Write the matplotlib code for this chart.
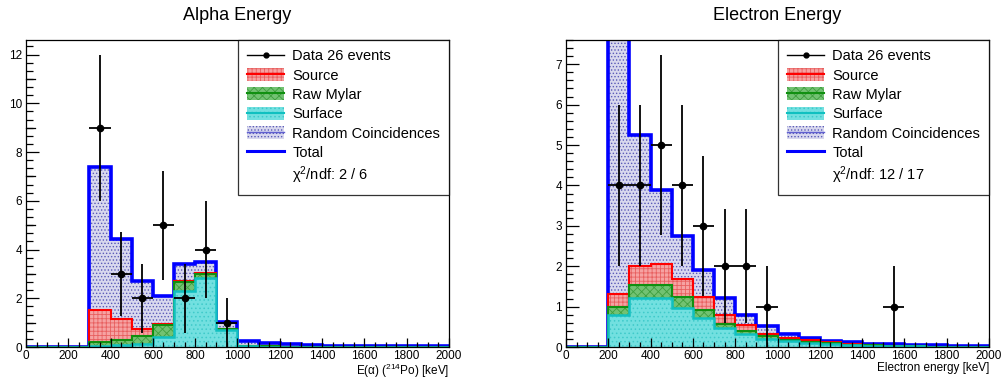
import numpy as np
import matplotlib
matplotlib.use("Agg")
import matplotlib.pyplot as plt
from matplotlib.patches import Patch
from matplotlib.lines import Line2D
from matplotlib.ticker import MultipleLocator

plt.rcParams['font.family'] = ['Liberation Sans', 'DejaVu Sans']
plt.rcParams['mathtext.fontset'] = 'custom'
plt.rcParams['mathtext.rm'] = 'Liberation Sans'
plt.rcParams['mathtext.it'] = 'Liberation Sans:italic'
plt.rcParams['hatch.linewidth'] = 0.6

# ---------------- data ----------------
edges = np.arange(0, 2001, 100)

# Alpha energy (stack components per 100 keV bin)
alpha_surface = [0, 0, 0, 0.05, 0.08, 0.12, 0.41, 2.30, 2.85, 0.71, 0.04, 0.02, 0.01, 0, 0, 0, 0, 0, 0, 0]
alpha_mylar = [0, 0, 0, 0.14, 0.19, 0.32, 0.49, 0.38, 0.15, 0.01, 0.01, 0.01, 0, 0, 0, 0, 0, 0, 0, 0]
alpha_source = [0, 0, 0, 1.34, 0.88, 0.31, 0.03, 0.03, 0.02, 0.01, 0.01, 0, 0, 0, 0, 0, 0, 0, 0, 0]
alpha_random = [0, 0, 0, 5.86, 3.28, 1.96, 1.16, 0.71, 0.45, 0.30, 0.20, 0.12, 0.10, 0.07, 0.06, 0.05, 0.04, 0.04, 0.03, 0.03]
alpha_data_x = [350, 450, 550, 650, 750, 850, 950]
alpha_data_y = [9, 3, 2, 5, 2, 4, 1]

# Electron energy
elec_surface = [0, 0, 0.80, 1.21, 1.21, 0.97, 0.73, 0.47, 0.33, 0.21, 0.14, 0.10, 0.07, 0.05, 0.03, 0.02, 0.015, 0.01, 0.01, 0.005]
elec_mylar = [0, 0, 0.19, 0.33, 0.33, 0.28, 0.19, 0.11, 0.06, 0.05, 0.04, 0.03, 0.02, 0.01, 0.01, 0.01, 0.005, 0, 0, 0]
elec_source = [0, 0, 0.31, 0.46, 0.51, 0.44, 0.33, 0.22, 0.15, 0.07, 0.04, 0.035, 0.03, 0.02, 0.01, 0, 0, 0, 0, 0]
elec_random = [0, 0, 6.60, 3.26, 1.83, 1.07, 0.66, 0.42, 0.24, 0.19, 0.11, 0.055, 0.04, 0.04, 0.03, 0.035, 0.03, 0.04, 0.02, 0.025]
elec_data_x = [250, 350, 450, 550, 650, 750, 850, 950, 1550]
elec_data_y = [4, 4, 5, 4, 3, 2, 2, 1, 1]

titles = ["Alpha Energy", "Electron Energy"]
xlabels = ["E(α) ($^{214}$Po) [keV]", "Electron energy [keV]"]
chi2_labels = ["χ$^{2}$/ndf: 2 / 6", "χ$^{2}$/ndf: 12 / 17"]
ymaxes = [12.6, 7.6]
legend_labels = ["Data 26 events", "Source", "Raw Mylar", "Surface", "Random Coincidences", "Total"]

# ---------------- style ----------------
c_src_face, c_src_hatch, c_src_line = '#f6a2a2', '#e86060', '#ff0000'
c_myl_face, c_myl_hatch, c_myl_line = '#72c272', '#3f9f3f', '#109010'
c_sur_face, c_sur_hatch, c_sur_line = '#72e0e0', '#3fcaca', '#10c0c0'
c_rnd_face, c_rnd_hatch, c_rnd_line = '#d8d8ee', '#5a5ab8', '#6060d0'
c_tot = '#0000ff'

fig = plt.figure(figsize=(10.03, 3.78), dpi=100)
W, H = 1003, 378
ax_pos = [(26, 40, 423, 307), (566, 40, 423, 307)]

datasets = [
    (alpha_surface, alpha_mylar, alpha_source, alpha_random, alpha_data_x, alpha_data_y),
    (elec_surface, elec_mylar, elec_source, elec_random, elec_data_x, elec_data_y),
]

for i, (sur, myl, src, rnd, dx, dy) in enumerate(datasets):
    x0, y0, w, h = ax_pos[i]
    ax = fig.add_axes([x0 / W, (H - y0 - h) / H, w / W, h / H])
    sur = np.array(sur); myl = np.array(myl); src = np.array(src); rnd = np.array(rnd)
    c_sur = sur
    c_myl = c_sur + myl
    c_src = c_myl + src
    c_tot_v = c_src + rnd

    # total (random coincidences on top of stack)
    ax.stairs(c_tot_v, edges, baseline=0, fill=True, facecolor=c_rnd_face,
              edgecolor=c_rnd_hatch, hatch='.....', linewidth=0)
    ax.stairs(c_tot_v, edges, baseline=0, color=c_tot, linewidth=2.6)
    # source
    ax.stairs(c_src, edges, baseline=0, fill=True, facecolor=c_src_face,
              edgecolor=c_src_hatch, hatch='++++', linewidth=0)
    ax.stairs(c_src, edges, baseline=0, color=c_src_line, linewidth=1.5)
    # raw mylar
    ax.stairs(c_myl, edges, baseline=0, fill=True, facecolor=c_myl_face,
              edgecolor=c_myl_hatch, hatch='xxxx', linewidth=0)
    ax.stairs(c_myl, edges, baseline=0, color=c_myl_line, linewidth=1.5)
    # surface
    ax.stairs(c_sur, edges, baseline=0, fill=True, facecolor=c_sur_face,
              edgecolor=c_sur_hatch, hatch='....', linewidth=0)
    ax.stairs(c_sur, edges, baseline=0, color=c_sur_line, linewidth=1.8)

    # data
    dy_arr = np.array(dy, dtype=float)
    ax.errorbar(dx, dy, xerr=50, yerr=np.sqrt(dy_arr), fmt='o', color='black',
                ms=4.5, elinewidth=1.3, capsize=0, zorder=10)

    ax.set_xlim(0, 2000)
    ax.set_ylim(0, ymaxes[i])
    ax.xaxis.set_major_locator(MultipleLocator(200))
    ax.xaxis.set_minor_locator(MultipleLocator(50))
    if i == 0:
        ax.yaxis.set_major_locator(MultipleLocator(2))
        ax.yaxis.set_minor_locator(MultipleLocator(1 / 3))
        for yy in [1, 3, 5, 7, 9, 11]:
            ax.plot([0, 0.022], [yy, yy], transform=ax.get_yaxis_transform(),
                    color='black', lw=0.9, clip_on=False, zorder=20)
    else:
        ax.yaxis.set_major_locator(MultipleLocator(1))
        ax.yaxis.set_minor_locator(MultipleLocator(0.2))
    ax.tick_params(axis='both', which='both', direction='in', top=False, right=False,
                   labelsize=8.5, width=0.9)
    ax.tick_params(axis='y', which='major', length=9.5, pad=3)
    ax.tick_params(axis='y', which='minor', length=4.7)
    ax.tick_params(axis='x', which='major', length=6.5, pad=2)
    ax.tick_params(axis='x', which='minor', length=3.3)
    for sp in ax.spines.values():
        sp.set_linewidth(0.9)

    ax.set_xlabel(xlabels[i], fontsize=8.5, loc='right', labelpad=0)

    fig.text((x0 + w / 2) / W, (H - 15) / H, titles[i], fontsize=13,
             ha='center', va='center')

    handles = [
        Line2D([], [], color='black', marker='o', ms=3.5, lw=1),
        (Patch(facecolor=c_src_face, edgecolor=c_src_hatch, hatch='++++', lw=0),
         Line2D([], [], color=c_src_line, lw=1.5)),
        (Patch(facecolor=c_myl_face, edgecolor=c_myl_hatch, hatch='xxxx', lw=0),
         Line2D([], [], color=c_myl_line, lw=1.5)),
        (Patch(facecolor=c_sur_face, edgecolor=c_sur_hatch, hatch='....', lw=0),
         Line2D([], [], color=c_sur_line, lw=1.5)),
        (Patch(facecolor=c_rnd_face, edgecolor=c_rnd_hatch, hatch='.....', lw=0),
         Line2D([], [], color=c_rnd_line, lw=1)),
        Line2D([], [], color=c_tot, lw=2.2),
        Line2D([], [], color='none'),
    ]
    labels = legend_labels + [chi2_labels[i]]
    leg = ax.legend(handles, labels, loc='upper right', bbox_to_anchor=(0, 0, 1, 1),
                    borderaxespad=0, fontsize=10.5, frameon=True, fancybox=False,
                    edgecolor='black', handlelength=2.55, handleheight=1.0,
                    handletextpad=0.55, labelspacing=0.33, borderpad=0.6)
    leg.get_frame().set_linewidth(0.9)
    leg.set_zorder(30)

fig.savefig("out.png", dpi=100)
